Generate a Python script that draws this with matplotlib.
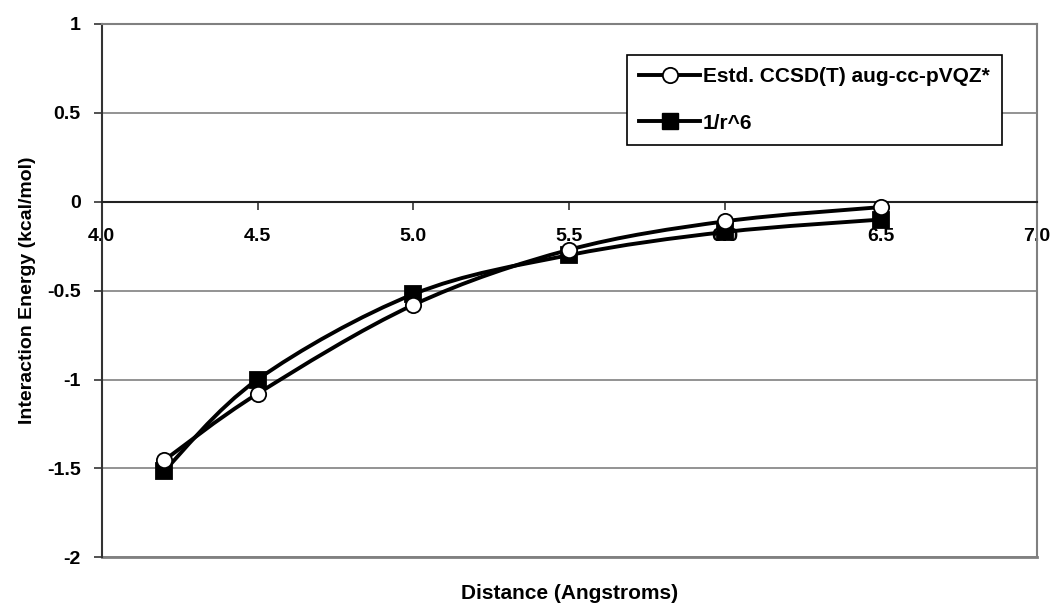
import numpy as np
import matplotlib.pyplot as plt
from matplotlib.path import Path
from matplotlib.patches import PathPatch
from matplotlib.lines import Line2D

plt.rcParams['font.family'] = ['Liberation Sans', 'DejaVu Sans']
plt.rcParams['font.weight'] = 'bold'
plt.rcParams['axes.unicode_minus'] = False

# distances (Angstrom) and interaction energies (kcal/mol)
distance = [4.2, 4.5, 5.0, 5.5, 6.0, 6.5]
e_ccsdt = [-1.455, -1.08, -0.58, -0.27, -0.11, -0.03]
e_r6 = [-1.515, -1.00, -0.52, -0.30, -0.17, -0.10]

label_ccsdt = "Estd. CCSD(T) aug-cc-pVQZ*"
label_r6 = "1/r^6"

LW = 2.8
MS = 11


def smooth_path(x, y):
    # cubic Bezier through the points (Excel-style smoothed line)
    p = np.column_stack([x, y]).astype(float)
    ext = np.vstack([p[0], p, p[-1]])
    verts = [p[0]]
    codes = [Path.MOVETO]
    for i in range(len(p) - 1):
        p0, p1, p2, p3 = ext[i], ext[i + 1], ext[i + 2], ext[i + 3]
        c1 = p1 + (p2 - p0) / 6.0
        c2 = p2 - (p3 - p1) / 6.0
        verts += [c1, c2, p2]
        codes += [Path.CURVE4] * 3
    return Path(verts, codes)


fig = plt.figure(figsize=(10.55, 6.09), dpi=100)
ax = fig.add_axes([0.0964, 0.0849, 0.8863, 0.8757])

ax.set_xlim(4.0, 7.0)
ax.set_ylim(-2, 1)
xt = np.arange(4.0, 7.01, 0.5)
ax.set_xticks(xt)
ax.set_xticklabels([f"{v:.1f}" for v in xt])
ax.set_yticks([1, 0.5, 0, -0.5, -1, -1.5, -2])
ax.set_yticklabels(["1", "0.5", "0", "-0.5", "-1", "-1.5", "-2"])

ax.grid(axis='y', color='#808080', linewidth=1.2)
ax.set_axisbelow(True)

# frame: gray border, dark value axis, category axis crossing at zero
for side in ('top', 'right'):
    ax.spines[side].set_color('#808080')
    ax.spines[side].set_linewidth(1.5)
ax.spines['left'].set_color('#333333')
ax.spines['left'].set_linewidth(1.5)
ax.spines['bottom'].set_position(('data', 0))
ax.spines['bottom'].set_color('#222222')
ax.spines['bottom'].set_linewidth(1.5)
ax.axhline(-2, color='#808080', linewidth=2.0, clip_on=False)

ax.tick_params(axis='both', direction='out', length=6, width=1.2, color='#333333',
               labelsize=14)
ax.tick_params(axis='x', pad=13)
ax.tick_params(axis='y', pad=9)

for ys, mk, fc in ((e_r6, 's', 'black'), (e_ccsdt, 'o', 'white')):
    ax.add_patch(PathPatch(smooth_path(distance, ys), facecolor='none',
                           edgecolor='black', linewidth=LW, zorder=3))
    ax.plot(distance, ys, linestyle='none', marker=mk, markersize=MS,
            markerfacecolor=fc, markeredgecolor='black', markeredgewidth=1.3,
            zorder=4)

fig.text(0.5394, 0.025, "Distance (Angstroms)", fontsize=15, fontweight='bold',
         ha='center', va='center')
fig.text(0.026, 0.523, "Interaction Energy (kcal/mol)", fontsize=14,
         fontweight='bold', rotation=90, ha='center', va='center')

handles = [
    Line2D([], [], color='black', linewidth=LW, marker='o', markersize=MS,
           markerfacecolor='white', markeredgecolor='black', markeredgewidth=1.3),
    Line2D([], [], color='black', linewidth=LW, marker='s', markersize=MS,
           markerfacecolor='black', markeredgecolor='black'),
]
leg = ax.legend(handles, [label_ccsdt, label_r6], loc='upper right',
                bbox_to_anchor=(0.963, 0.942), fontsize=15, frameon=True,
                fancybox=False, shadow=False, handlelength=2.9,
                labelspacing=1.3, borderpad=0.6, handletextpad=0.15,
                borderaxespad=0)
leg.get_frame().set_edgecolor('black')
leg.get_frame().set_linewidth(1.2)
leg.get_frame().set_alpha(1)

fig.savefig("out.png", dpi=100)
